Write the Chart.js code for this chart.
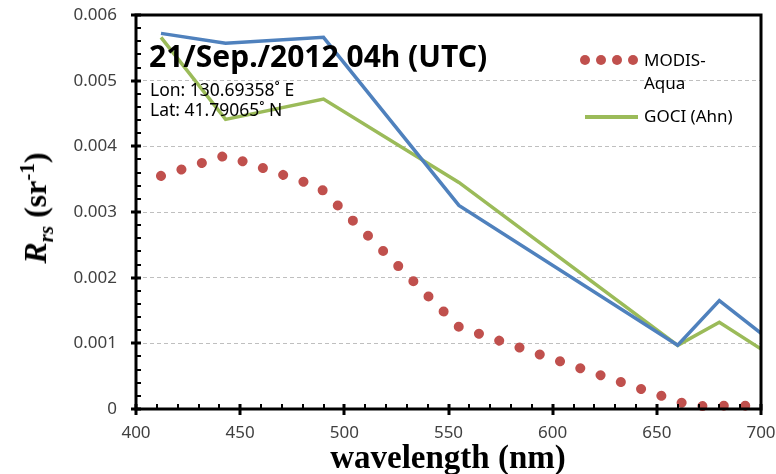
<!DOCTYPE html>
<html lang="en">
<head>
    <meta charset="UTF-8">
    <title>Rrs spectra - 21/Sep./2012</title>
    <script src="https://cdn.jsdelivr.net/npm/chart.js"></script>
    <style>
        body { margin: 0; background: #fff; }
        .wrap { position: relative; width: 776px; height: 474px; }
        .txt { position: absolute; white-space: nowrap; color: #000; font-family: "Noto Sans", sans-serif; }
        .title { left: 149px; top: 39px; font-size: 30px; font-weight: bold; line-height: 34px; }
        .sub { left: 150px; font-size: 17.5px; line-height: 20px; }
        .leg { left: 644px; font-size: 17px; line-height: 20px; }
        .dot { position: absolute; width: 10px; height: 10px; border-radius: 50%; background: #C0504D; }
        .gline { position: absolute; left: 585px; top: 115px; width: 53px; height: 4px; background: #9BBB59; }
        .xtitle { left: 0; width: 896px; text-align: center; top: 439px; font-family: "Liberation Serif", serif; font-weight: bold; font-size: 33px; line-height: 36px; }
        .ytitle { left: 37px; top: 208px; transform: translate(-50%, -50%) rotate(-90deg); font-family: "Liberation Serif", serif; font-weight: bold; font-size: 32px; }
        .ytitle sub, .ytitle sup { font-size: 21px; }
    </style>
</head>
<body>
<div class="wrap">
    <canvas id="rrsChart" width="776" height="474"></canvas>

    <div class="txt title">21/Sep./2012 04h (UTC)</div>
    <div class="txt sub" style="top:79px">Lon: 130.69358˚ E</div>
    <div class="txt sub" style="top:99px">Lat: 41.79065˚ N</div>

    <div class="dot" style="left:580px;top:55px"></div>
    <div class="dot" style="left:596px;top:55px"></div>
    <div class="dot" style="left:612px;top:55px"></div>
    <div class="dot" style="left:628px;top:55px"></div>
    <div class="txt leg" style="top:50px">MODIS-</div>
    <div class="txt leg" style="top:73px">Aqua</div>
    <div class="gline"></div>
    <div class="txt leg" style="top:106px">GOCI (Ahn)</div>

    <div class="txt xtitle">wavelength (nm)</div>
    <div class="txt ytitle"><i>R</i><sub><i>rs</i></sub> (sr<sup>-1</sup>)</div>
</div>

<script>
    // band centres (nm)
    const modisBands = [412, 443, 488, 555, 667, 678, 748];
    const gociBands = [412, 443, 490, 555, 660, 680, 745];

    // remote sensing reflectance values (sr^-1)
    const modisAqua = [0.00355, 0.00386, 0.00338, 0.00125, 0.00004, 0.00005, 0.00005];
    const gociBlue = [0.00572, 0.00557, 0.00566, 0.00310, 0.00097, 0.00165, 0.00004];
    const gociAhn = [0.00566, 0.00441, 0.00472, 0.00345, 0.00097, 0.00132, 0.00000];

    // axis ticks
    const xTicks = [400, 450, 500, 550, 600, 650, 700];
    const yTicks = [0, 0.001, 0.002, 0.003, 0.004, 0.005, 0.006];

    function pairs(xs, ys) {
        return xs.map((x, i) => ({ x: x, y: ys[i] }));
    }

    // box + excel style tick marks
    const axisBox = {
        id: 'axisBox',
        afterDatasetsDraw(chart) {
            const { ctx, chartArea: a, scales } = chart;
            const x = scales.x, y = scales.y;
            ctx.save();
            ctx.strokeStyle = '#000';
            ctx.lineWidth = 2;
            // minor ticks
            ctx.beginPath();
            for (let v = 0; v <= 0.006 + 1e-9; v += 0.0002) {
                const py = Math.round(y.getPixelForValue(v));
                ctx.moveTo(a.left, py);
                ctx.lineTo(a.left + 5, py);
            }
            for (let v = 400; v <= 700; v += 10) {
                const px = Math.round(x.getPixelForValue(v));
                ctx.moveTo(px, a.bottom);
                ctx.lineTo(px, a.bottom - 5);
            }
            ctx.stroke();
            // major ticks
            ctx.lineWidth = 3;
            ctx.beginPath();
            yTicks.forEach(v => {
                const py = Math.round(y.getPixelForValue(v));
                ctx.moveTo(a.left - 5, py);
                ctx.lineTo(a.left + 5, py);
            });
            xTicks.forEach(v => {
                const px = Math.round(x.getPixelForValue(v));
                ctx.moveTo(px, a.bottom - 5);
                ctx.lineTo(px, a.bottom + 6);
            });
            ctx.stroke();
            ctx.strokeRect(a.left, a.top, a.right - a.left, a.bottom - a.top);
            ctx.restore();
        }
    };

    new Chart(document.getElementById('rrsChart'), {
        type: 'line',
        data: {
            datasets: [{
                label: 'MODIS-Aqua',
                data: pairs(modisBands, modisAqua),
                borderColor: '#C0504D',
                borderWidth: 10,
                borderDash: [0.01, 21.4],
                borderCapStyle: 'round',
                pointRadius: 0,
                clip: { left: 6, top: 6, right: 0, bottom: 8 }
            }, {
                label: 'GOCI',
                data: pairs(gociBands, gociBlue),
                borderColor: '#4F81BD',
                borderWidth: 3.5,
                pointRadius: 0,
                clip: 0
            }, {
                label: 'GOCI (Ahn)',
                data: pairs(gociBands, gociAhn),
                borderColor: '#9BBB59',
                borderWidth: 3.5,
                pointRadius: 0,
                clip: 0
            }]
        },
        options: {
            responsive: false,
            animation: false,
            layout: { padding: { top: 15, right: 15, left: 0, bottom: 0 } },
            plugins: { legend: { display: false }, tooltip: { enabled: false } },
            scales: {
                x: {
                    type: 'linear',
                    min: 400,
                    max: 700,
                    afterBuildTicks: s => { s.ticks = xTicks.map(v => ({ value: v })); },
                    afterFit: s => { s.height = 65; s.paddingLeft = 0; s.paddingRight = 0; },
                    grid: { display: false, drawTicks: false },
                    border: { display: false },
                    ticks: {
                        padding: 14,
                        color: '#404040',
                        font: { family: 'Noto Sans', size: 17 }
                    }
                },
                y: {
                    min: 0,
                    max: 0.006,
                    afterBuildTicks: s => { s.ticks = yTicks.map(v => ({ value: v })); },
                    afterFit: s => { s.width = 136; s.paddingTop = 0; s.paddingBottom = 0; },
                    grid: {
                        drawTicks: false,
                        lineWidth: 1,
                        color: c => (c.tick.value > 0.0001 && c.tick.value < 0.0059) ? '#BFBFBF' : 'rgba(0,0,0,0)'
                    },
                    border: { display: false, dash: [4, 3] },
                    ticks: {
                        padding: 19,
                        color: '#404040',
                        font: { family: 'Noto Sans', size: 17 },
                        callback: v => v === 0 ? '0' : v.toFixed(3)
                    }
                }
            }
        },
        plugins: [axisBox]
    });
</script>
</body>
</html>
